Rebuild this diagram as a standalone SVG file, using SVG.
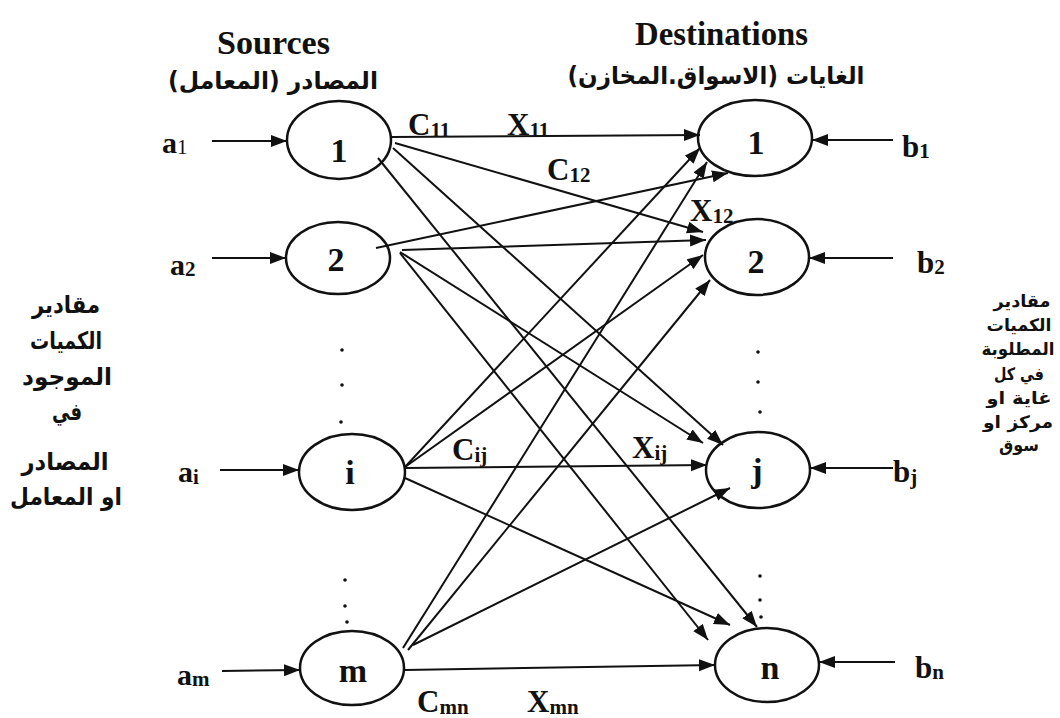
<svg xmlns="http://www.w3.org/2000/svg" width="1060" height="718" viewBox="0 0 1060 718">
<style>
.node{fill:none;stroke:#111;stroke-width:2.5}
.edge{stroke:#111;stroke-width:2;fill:none;marker-end:url(#ah)}
.lbl{font-family:"Liberation Serif","Times New Roman",serif;font-weight:bold;fill:#111}
.nl{font-family:"Liberation Serif","Times New Roman",serif;font-weight:bold;font-size:34px;fill:#111;text-anchor:middle}
.ar{font-family:"DejaVu Sans","Noto Sans",sans-serif;font-weight:bold;fill:#111;text-anchor:middle}
.al{font-size:24px}
.arr{font-size:17px}
.dot{fill:#111}
</style>
<defs>
<marker id="ah" markerUnits="userSpaceOnUse" markerWidth="17" markerHeight="13" refX="16" refY="6" orient="auto">
<path d="M0,0 L16,6 L0,12 z" fill="#111"/>
</marker>
</defs>
<rect width="1060" height="718" fill="#fff"/>

<g id="headers">
<text class="lbl" x="217" y="54" font-size="33" textLength="113" lengthAdjust="spacingAndGlyphs">Sources</text>
<text class="ar" x="273" y="89" font-size="24" direction="rtl" textLength="210" lengthAdjust="spacingAndGlyphs">المصادر (المعامل)</text>
<text class="lbl" x="635" y="45" font-size="33" textLength="173" lengthAdjust="spacingAndGlyphs">Destinations</text>
<text class="ar" x="716" y="84" font-size="24" direction="rtl" textLength="297" lengthAdjust="spacingAndGlyphs">الغايات (الاسواق.المخازن)</text>
</g>

<g id="left-note">
<text class="ar al" x="66" y="313" direction="rtl" textLength="68" lengthAdjust="spacingAndGlyphs">مقادير</text>
<text class="ar al" x="66" y="349" direction="rtl" textLength="72" lengthAdjust="spacingAndGlyphs">الكميات</text>
<text class="ar al" x="67" y="385" direction="rtl" textLength="90" lengthAdjust="spacingAndGlyphs">الموجود</text>
<text class="ar al" x="67" y="420" direction="rtl" textLength="30" lengthAdjust="spacingAndGlyphs">في</text>
<text class="ar al" x="65" y="470" direction="rtl" textLength="87" lengthAdjust="spacingAndGlyphs">المصادر</text>
<text class="ar al" x="66" y="505" direction="rtl" textLength="112" lengthAdjust="spacingAndGlyphs">او المعامل</text>
</g>
<g id="right-note">
<text class="ar arr" x="1022" y="307" direction="rtl" textLength="57" lengthAdjust="spacingAndGlyphs">مقادير</text>
<text class="ar arr" x="1019" y="331" direction="rtl" textLength="65" lengthAdjust="spacingAndGlyphs">الكميات</text>
<text class="ar arr" x="1018" y="355" direction="rtl" textLength="73" lengthAdjust="spacingAndGlyphs">المطلوبة</text>
<text class="ar arr" x="1019" y="380" direction="rtl" textLength="50" lengthAdjust="spacingAndGlyphs">في كل</text>
<text class="ar arr" x="1019" y="404" direction="rtl" textLength="65" lengthAdjust="spacingAndGlyphs">غاية او</text>
<text class="ar arr" x="1018" y="428" direction="rtl" textLength="70" lengthAdjust="spacingAndGlyphs">مركز او</text>
<text class="ar arr" x="1019" y="451" direction="rtl" textLength="40" lengthAdjust="spacingAndGlyphs">سوق</text>
</g>

<g id="source-1"><ellipse class="node" cx="339" cy="140" rx="52" ry="39"/><text class="nl" x="339" y="162">1</text></g>
<g id="source-2"><ellipse class="node" cx="338" cy="258" rx="52" ry="36"/><text class="nl" x="336" y="271">2</text></g>
<g id="source-i"><ellipse class="node" cx="352" cy="472" rx="53" ry="38"/><text class="nl" x="350" y="484">i</text></g>
<g id="source-m"><ellipse class="node" cx="352" cy="668" rx="52" ry="37"/><text class="nl" x="353" y="682">m</text></g>

<g id="dest-1"><ellipse class="node" cx="755" cy="138" rx="57" ry="38"/><text class="nl" x="756" y="154">1</text></g>
<g id="dest-2"><ellipse class="node" cx="757" cy="257" rx="52" ry="38"/><text class="nl" x="756" y="273">2</text></g>
<g id="dest-j"><ellipse class="node" cx="758" cy="470" rx="52" ry="38"/><text class="nl" x="757" y="482">j</text></g>
<g id="dest-n"><ellipse class="node" cx="767" cy="665" rx="52" ry="37"/><text class="nl" x="770" y="679">n</text></g>

<g id="dots">
<circle class="dot" cx="342" cy="350" r="1.8"/><circle class="dot" cx="342" cy="385" r="1.8"/><circle class="dot" cx="341" cy="422" r="1.8"/>
<circle class="dot" cx="345" cy="580" r="1.8"/><circle class="dot" cx="345" cy="606" r="1.8"/><circle class="dot" cx="347" cy="622" r="1.8"/>
<circle class="dot" cx="758" cy="352" r="1.8"/><circle class="dot" cx="758" cy="382" r="1.8"/><circle class="dot" cx="760" cy="412" r="1.8"/>
<circle class="dot" cx="760" cy="576" r="1.8"/><circle class="dot" cx="760" cy="600" r="1.8"/><circle class="dot" cx="761" cy="617" r="1.8"/>
</g>

<g id="connectors">
<line class="edge" x1="212" y1="141" x2="287" y2="141"/>
<line class="edge" x1="212" y1="258" x2="286" y2="258"/>
<line class="edge" x1="220" y1="470" x2="299" y2="470"/>
<line class="edge" x1="222" y1="671" x2="300" y2="670"/>
<line class="edge" x1="893" y1="140" x2="812" y2="140"/>
<line class="edge" x1="893" y1="258" x2="809" y2="258"/>
<line class="edge" x1="893" y1="468" x2="810" y2="468"/>
<line class="edge" x1="895" y1="662" x2="819" y2="662"/>

<line class="edge" x1="392" y1="137" x2="700" y2="135"/>
<line class="edge" x1="395" y1="143" x2="703" y2="232"/>
<line class="edge" x1="393" y1="148" x2="723" y2="445"/>
<line class="edge" x1="378" y1="158" x2="757" y2="627"/>

<line class="edge" x1="376" y1="248" x2="728" y2="173"/>
<line class="edge" x1="402" y1="250" x2="706" y2="240"/>
<line class="edge" x1="400" y1="252" x2="703" y2="443"/>
<line class="edge" x1="400" y1="253" x2="708" y2="640"/>

<line class="edge" x1="405" y1="467" x2="700" y2="148"/>
<line class="edge" x1="405" y1="467" x2="703" y2="255"/>
<line class="edge" x1="405" y1="468" x2="707" y2="465"/>
<line class="edge" x1="405" y1="478" x2="730" y2="625"/>

<line class="edge" x1="403" y1="648" x2="707" y2="162"/>
<line class="edge" x1="408" y1="650" x2="710" y2="280"/>
<line class="edge" x1="413" y1="645" x2="730" y2="488"/>
<line class="edge" x1="405" y1="670" x2="715" y2="665"/>
</g>

<g id="labels">
<text class="lbl" x="162" y="153" font-size="30">a<tspan font-size="21" font-weight="normal" dy="1">1</tspan></text>
<text class="lbl" x="170" y="275" font-size="30">a<tspan font-size="21" dy="1">2</tspan></text>
<text class="lbl" x="178" y="482" font-size="30">a<tspan font-size="21" dy="2">i</tspan></text>
<text class="lbl" x="177" y="685" font-size="30">a<tspan font-size="21" dy="1">m</tspan></text>
<text class="lbl" x="902" y="157" font-size="31">b<tspan font-size="21" dy="1">1</tspan></text>
<text class="lbl" x="917" y="273" font-size="31">b<tspan font-size="21" dy="1">2</tspan></text>
<text class="lbl" x="893" y="482" font-size="31">b<tspan font-size="21" dy="2">j</tspan></text>
<text class="lbl" x="915" y="678" font-size="31">b<tspan font-size="21" dy="1">n</tspan></text>

<text class="lbl" x="408" y="135" font-size="31">C<tspan font-size="21" dy="2">11</tspan></text>
<text class="lbl" x="507" y="135" font-size="31">X<tspan font-size="21" dy="2">11</tspan></text>
<text class="lbl" x="547" y="180" font-size="31">C<tspan font-size="21" dy="2">12</tspan></text>
<text class="lbl" x="690" y="221" font-size="31">X<tspan font-size="21" dy="2">12</tspan></text>
<text class="lbl" x="452" y="460" font-size="31">C<tspan font-size="21" dy="2">ij</tspan></text>
<text class="lbl" x="632" y="458" font-size="31">X<tspan font-size="21" dy="2">ij</tspan></text>
<text class="lbl" x="417" y="712" font-size="31">C<tspan font-size="21" dy="2">mn</tspan></text>
<text class="lbl" x="527" y="712" font-size="31">X<tspan font-size="21" dy="2">mn</tspan></text>
</g>
</svg>
